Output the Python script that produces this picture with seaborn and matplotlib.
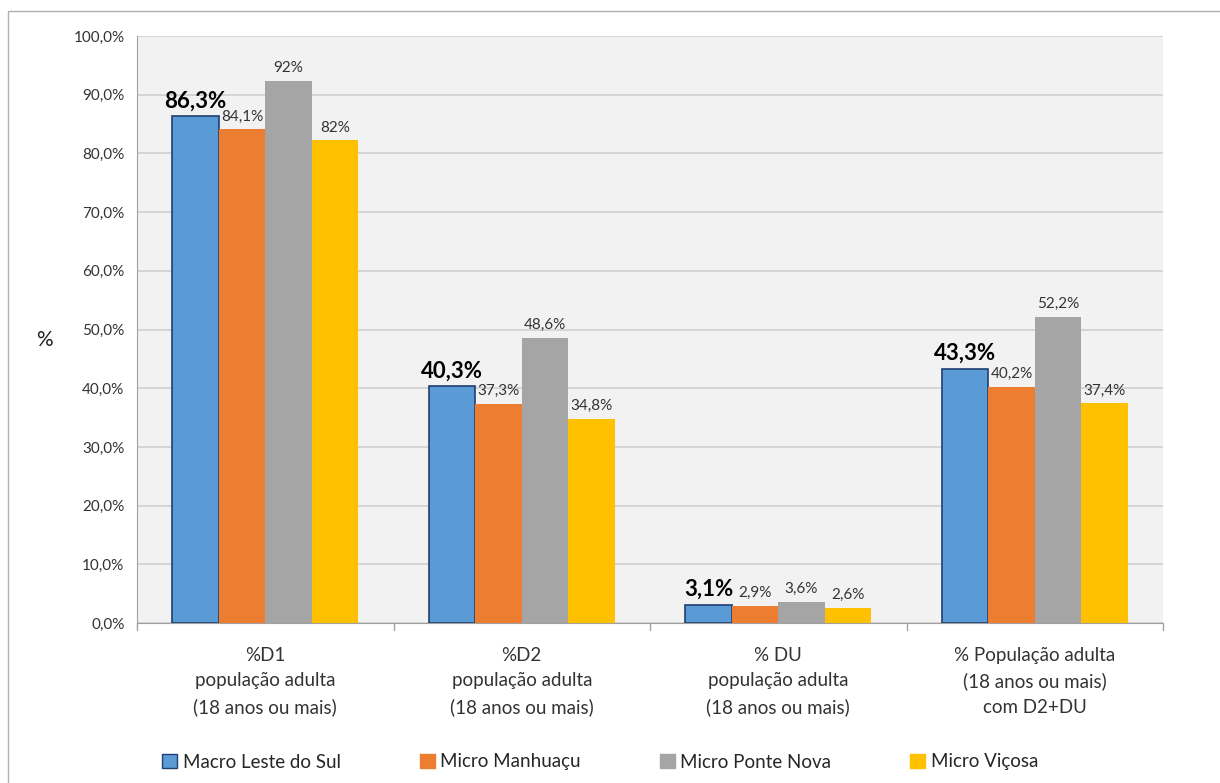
import numpy as np
import pandas as pd
import matplotlib.pyplot as plt
import matplotlib.patches as mpatches
import seaborn as sns

categories = ["%D1\npopulação adulta\n(18 anos ou mais)",
              "%D2\npopulação adulta\n(18 anos ou mais)",
              "% DU\npopulação adulta\n(18 anos ou mais)",
              "% População adulta\n(18 anos ou mais)\ncom D2+DU"]
series = ["Macro Leste do Sul", "Micro Manhuaçu", "Micro Ponte Nova", "Micro Viçosa"]
macro = [86.3, 40.3, 3.1, 43.3]
manhuacu = [84.1, 37.3, 2.9, 40.2]
ponte_nova = [92.3, 48.6, 3.6, 52.2]
vicosa = [82.2, 34.8, 2.6, 37.4]
labels_macro = ["86,3%", "40,3%", "3,1%", "43,3%"]
labels_manhuacu = ["84,1%", "37,3%", "2,9%", "40,2%"]
labels_ponte_nova = ["92%", "48,6%", "3,6%", "52,2%"]
labels_vicosa = ["82%", "34,8%", "2,6%", "37,4%"]

colors = ["#5b9bd5", "#ed7d31", "#a5a5a5", "#ffc000"]

rows = []
for name, vals in zip(series, [macro, manhuacu, ponte_nova, vicosa]):
    for cat, v in zip(categories, vals):
        rows.append({"cat": cat, "serie": name, "valor": v})
df = pd.DataFrame(rows)

sns.set_style("white")
plt.rcParams['font.family'] = ['Lato', 'DejaVu Sans']

fig = plt.figure(figsize=(12.2, 7.83), dpi=100)
ax = fig.add_axes([137 / 1220, 1 - 623 / 783, (1163 - 137) / 1220, (623 - 36) / 783])
ax.set_facecolor("#f2f2f2")

sns.barplot(data=df, x="cat", y="valor", hue="serie", order=categories, hue_order=series,
            palette=colors, width=0.725, saturation=1, ax=ax, legend=False, zorder=3)

all_labels = [labels_macro, labels_manhuacu, labels_ponte_nova, labels_vicosa]
for i, cont in enumerate(ax.containers):
    for j, bar in enumerate(cont):
        bar.set_linewidth(0)
        if i == 0:
            bar.set_edgecolor("#1f3f6f")
            bar.set_linewidth(1.2)
        x = bar.get_x() + bar.get_width() / 2
        h = bar.get_height()
        if i == 0:
            ax.text(x, h + 0.8, all_labels[i][j], ha="center", va="bottom",
                    fontsize=16, fontweight="bold", color="#000000")
        else:
            ax.text(x, h + 1.0, all_labels[i][j], ha="center", va="bottom",
                    fontsize=11, color="#333333")

ax.set_ylim(0, 100)
ax.set_xlim(-0.5, 3.5)
ax.set_yticks(np.arange(0, 101, 10))
ax.set_yticklabels([f"{v:.1f}%".replace(".", ",") for v in range(0, 101, 10)], fontsize=11)
ax.yaxis.grid(True, color="#d0d0d0", linewidth=1.2, zorder=0)
ax.set_axisbelow(True)
ax.tick_params(axis="y", length=5, color="#a0a0a0", pad=4, labelcolor="#333333")
ax.set_xticks(range(4))
ax.set_xticklabels(categories, fontsize=13.5, color="#333333", linespacing=1.6)
ax.tick_params(axis="x", length=0, pad=17)
for b in np.arange(-0.5, 3.6, 1):
    ax.plot([b, b], [0, -1.2], color="#a0a0a0", lw=1, clip_on=False)
ax.set_xlabel("")
ax.set_ylabel("")
fig.text(44 / 1220, 1 - 340 / 783, "%", fontsize=15, ha="center", va="center", color="#222222")
for side in ["top", "right"]:
    ax.spines[side].set_visible(False)
ax.spines["left"].set_color("#a0a0a0")
ax.spines["bottom"].set_color("#a0a0a0")

handles = []
for k, (name, c) in enumerate(zip(series, colors)):
    ec = "#1f3f6f" if k == 0 else c
    handles.append(mpatches.Patch(facecolor=c, edgecolor=ec, linewidth=1, label=name))
fig.legend(handles=handles, loc="center", bbox_to_anchor=(0.492, 1 - 762 / 783), ncol=4,
           frameon=False, fontsize=13.5, handlelength=0.8, handleheight=0.8,
           handletextpad=0.3, columnspacing=4.2)

border = mpatches.Rectangle((8 / 1220, -0.01), 1.02, 1 - 11 / 783 + 0.01, transform=fig.transFigure,
                            fill=False, edgecolor="#b0b0b0", linewidth=1)
fig.patches.append(border)

fig.savefig("out.png", dpi=100)
